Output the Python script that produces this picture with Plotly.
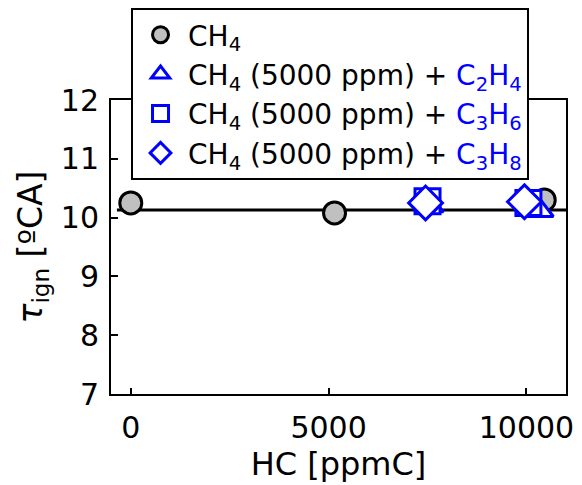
import plotly.graph_objects as go

# Data
ch4_x = [0, 5150, 10450]
ch4_y = [10.25, 10.08, 10.30]
c2h4_x = [7550, 10330]
c2h4_y = [10.20, 10.12]
c3h6_x = [7500, 10050]
c3h6_y = [10.28, 10.25]
c3h8_x = [7450, 9950]
c3h8_y = [10.25, 10.27]
fit_x = [-350, 11000]
fit_y = [10.13, 10.13]

x_ticks = [0, 5000, 10000]
x_ticktext = ["0", "5000", "10000"]
y_ticks = [7, 8, 9, 10, 11, 12]

FONT = "DejaVu Sans, Liberation Sans, Arial, sans-serif"
BLUE = "#0000ff"

fig = go.Figure()
fig.add_trace(go.Scatter(x=fit_x, y=fit_y, mode="lines",
                         line=dict(color="black", width=3), showlegend=False))
fig.add_trace(go.Scatter(x=ch4_x, y=ch4_y, mode="markers", name="CH<sub>4</sub>",
                         marker=dict(symbol="circle", size=22, color="#c0c0c0",
                                     line=dict(color="black", width=3))))
fig.add_trace(go.Scatter(x=c2h4_x, y=c2h4_y, mode="markers",
                         name="CH<sub>4</sub> (5000 ppm) + <span style='color:#0000ff'>C<sub>2</sub>H<sub>4</sub></span>",
                         marker=dict(symbol="triangle-up", size=24, color="white",
                                     line=dict(color=BLUE, width=3))))
fig.add_trace(go.Scatter(x=c3h6_x, y=c3h6_y, mode="markers",
                         name="CH<sub>4</sub> (5000 ppm) + <span style='color:#0000ff'>C<sub>3</sub>H<sub>6</sub></span>",
                         marker=dict(symbol="square", size=25, color="white",
                                     line=dict(color=BLUE, width=3))))
fig.add_trace(go.Scatter(x=c3h8_x, y=c3h8_y, mode="markers",
                         name="CH<sub>4</sub> (5000 ppm) + <span style='color:#0000ff'>C<sub>3</sub>H<sub>8</sub></span>",
                         marker=dict(symbol="diamond", size=26, color="white",
                                     line=dict(color=BLUE, width=3))))

fig.update_layout(
    template="none",
    width=582, height=485,
    margin=dict(l=111, r=16, t=100, b=91, autoexpand=False),
    paper_bgcolor="white", plot_bgcolor="white",
    font=dict(family=FONT, size=30, color="black"),
    legend=dict(x=0.044, y=1.313, xanchor="left", yanchor="top",
                bgcolor="white", bordercolor="black", borderwidth=2,
                font=dict(size=28), tracegroupgap=0, itemsizing="trace",
                itemwidth=45),
    xaxis=dict(range=[-500, 11000], tickvals=x_ticks, ticktext=x_ticktext,
               ticks="inside", ticklen=6, automargin=False,
               tickwidth=2, tickcolor="black", showline=True, linewidth=2,
               linecolor="black", mirror=True, showgrid=False, zeroline=False,
               tickfont=dict(size=30),
               title=dict(text="HC [ppmC]", standoff=0, font=dict(size=32)),
               ticklabelstandoff=6),
    yaxis=dict(range=[7, 12], tickvals=y_ticks, ticks="inside", ticklen=7,
               automargin=False,
               tickwidth=2, tickcolor="black", showline=True, linewidth=2,
               linecolor="black", mirror=True, showgrid=False, zeroline=False,
               tickfont=dict(size=30), ticklabelstandoff=4,
               title=dict(text="<i>τ</i><sub>ign</sub> [ºCA]", standoff=8,
                          font=dict(size=33))),
)

fig.write_html("out.html", config={"displayModeBar": False},
               post_script="document.body.style.margin='0';document.body.style.overflow='hidden';")
